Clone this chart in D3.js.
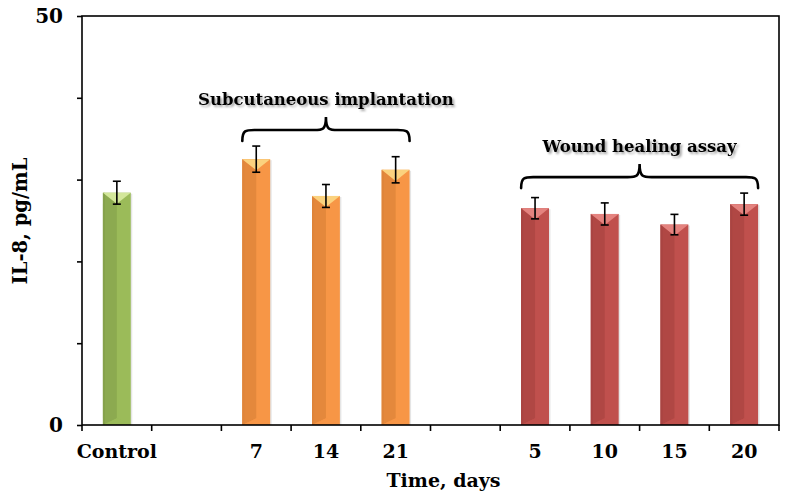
<!DOCTYPE html>
<html><head><meta charset="utf-8">
<script src="https://cdnjs.cloudflare.com/ajax/libs/d3/7.8.5/d3.min.js"></script>
<style>body{margin:0;background:#fff;}svg{display:block;}</style>
</head><body><div id="chart"></div>
<script>
const categories = ["Control","gap1","7","14","21","gap2","5","10","15","20"];
const tickLabels = ["Control","","7","14","21","","5","10","15","20"];
const groups =     ["control",null,"subcut","subcut","subcut",null,"wound","wound","wound","wound"];
const values =     [28.4,null,32.5,28.0,31.2,null,26.5,25.8,24.5,27.0];
const errors =     [1.4,null,1.6,1.4,1.6,null,1.3,1.35,1.25,1.35];
const yTicks = [0,10,20,30,40,50];
const yTickLabels = ["0","","","","","50"];
const annotations = [
  {group:"subcut", text:"Subcutaneous implantation"},
  {group:"wound", text:"Wound healing assay"}
];
const colors = {
  control:{base:"#9BBB59", dark:"#8CAA50", light:"#D3E79A", edge:"#7F9A48"},
  subcut:{base:"#F79646", dark:"#E4883C", light:"#FBD27E", edge:"#D9823A"},
  wound:{base:"#C0504D", dark:"#B04744", light:"#E4837F", edge:"#A2423F"}
};

const W=792,H=502;
const m={left:82,right:13,top:16,bottom:77};
const svg=d3.select("#chart").append("svg").attr("width",W).attr("height",H);
const font="'DejaVu Serif', Georgia, serif";
const defs=svg.append("defs");
const f=defs.append("filter").attr("id","sh").attr("x","-10%").attr("y","-30%").attr("width","120%").attr("height","160%");
f.append("feDropShadow").attr("dx",2).attr("dy",2).attr("stdDeviation",1).attr("flood-color","#000").attr("flood-opacity",0.35);

const x=d3.scaleBand().domain(categories).range([m.left,W-m.right]).paddingInner(0.6).paddingOuter(0.3);
const y=d3.scaleLinear().domain([0,50]).range([H-m.bottom,m.top]);
const x0=m.left,x1=W-m.right,y0=H-m.bottom,y1=m.top;
const step=x.step();

const data=categories.map((c,i)=>({c,g:groups[i],v:values[i],e:errors[i]})).filter(d=>d.v!=null);

// bars
const bars=svg.append("g");
data.forEach(d=>{
  const col=colors[d.g];
  const bx=x(d.c),bw=x.bandwidth(),top=y(d.v),bot=y(0);
  const bev=bw/2*0.8;
  const g=bars.append("g");
  g.append("rect").attr("x",bx).attr("y",top).attr("width",bw).attr("height",bot-top).attr("fill",col.base);
  g.append("path").attr("d",`M${bx},${top}L${bx+bw/2},${top+bev}L${bx+bw/2},${bot-bev*0.6}L${bx},${bot}Z`).attr("fill",col.dark);
  g.append("rect").attr("x",bx).attr("y",top).attr("width",2).attr("height",bot-top).attr("fill",col.edge).attr("opacity",0.5);
  g.append("path").attr("d",`M${bx},${top}L${bx+bw},${top}L${bx+bw/2},${top+bev}Z`).attr("fill",col.light);
  g.append("path").attr("d",`M${bx},${bot}L${bx+bw},${bot}L${bx+bw/2},${bot-bev*0.6}Z`).attr("fill",col.base).attr("opacity",0.9);
  g.append("rect").attr("x",bx+bw).attr("y",top+1).attr("width",1.5).attr("height",bot-top-1).attr("fill","#000").attr("opacity",0.1);
});

// error bars
const eg=svg.append("g").attr("stroke","#000").attr("stroke-width",1.6);
data.forEach(d=>{
  const cx=x(d.c)+x.bandwidth()/2;
  const t=y(d.v+d.e),b=y(d.v-d.e);
  eg.append("line").attr("x1",cx).attr("x2",cx).attr("y1",t).attr("y2",b);
  eg.append("line").attr("x1",cx-4).attr("x2",cx+4).attr("y1",t).attr("y2",t);
  eg.append("line").attr("x1",cx-4).attr("x2",cx+4).attr("y1",b).attr("y2",b);
});

// frame
svg.append("rect").attr("x",x0).attr("y",y1).attr("width",x1-x0).attr("height",y0-y1).attr("fill","none").attr("stroke","#000").attr("stroke-width",1.6);

// y axis
const ya=svg.append("g").attr("transform",`translate(${x0},0)`).call(d3.axisLeft(y).tickValues(yTicks).tickSize(5).tickFormat((d,i)=>yTickLabels[i]));
ya.select(".domain").remove();
ya.selectAll("line").attr("stroke","#000").attr("stroke-width",1.6);
ya.selectAll("text").attr("font-family",font).attr("font-weight","bold").attr("font-size",20).attr("fill","#000").attr("x",-19);

// x axis ticks at band boundaries
const boundaries=d3.range(categories.length+1).map(i=>x0+i*step);
const xg=svg.append("g");
boundaries.forEach(bx=>{
  xg.append("line").attr("x1",bx).attr("x2",bx).attr("y1",y0).attr("y2",y0+6).attr("stroke","#000").attr("stroke-width",1.6);
});
const xa=svg.append("g").attr("transform",`translate(0,${y0})`).call(d3.axisBottom(x).tickSize(0).tickFormat((d,i)=>tickLabels[i]));
xa.select(".domain").remove();
xa.selectAll("text").attr("font-family",font).attr("font-weight","bold").attr("font-size",19).attr("fill","#000").attr("dy",0).attr("y",33);

// axis titles
svg.append("text").attr("x",(x0+x1)/2+13).attr("y",487).attr("text-anchor","middle")
  .attr("font-family",font).attr("font-weight","bold").attr("font-size",19).text("Time, days");
svg.append("text").attr("transform",`translate(27,221) rotate(-90)`).attr("text-anchor","middle")
  .attr("font-family",font).attr("font-weight","bold").attr("font-size",19.5).text("IL-8, pg/mL");

// braces & annotations
annotations.forEach(a=>{
  const ds=data.filter(d=>d.g===a.group);
  const L=x(ds[0].c), R=x(ds[ds.length-1].c)+x.bandwidth();
  const topErr=d3.min(ds,d=>y(d.v+d.e));
  const yEnd=topErr-5, yMid=yEnd-11, yPeak=yEnd-24, mx=(L+R)/2, r=12;
  const p=`M${L},${yEnd} C${L},${yMid} ${L+r*0.3},${yMid} ${L+r},${yMid} L${mx-r},${yMid} C${mx-r*0.3},${yMid} ${mx},${yMid} ${mx},${yPeak} C${mx},${yMid} ${mx+r*0.3},${yMid} ${mx+r},${yMid} L${R-r},${yMid} C${R-r*0.3},${yMid} ${R},${yMid} ${R},${yEnd}`;
  svg.append("path").attr("d",p).attr("fill","none").attr("stroke","#000").attr("stroke-width",2.6).attr("stroke-linecap","round");
  svg.append("text").attr("x",mx).attr("y",yPeak-12).attr("text-anchor","middle")
    .attr("font-family",font).attr("font-weight","bold").attr("font-size",16.5).attr("filter","url(#sh)").text(a.text);
});
</script></body></html>
